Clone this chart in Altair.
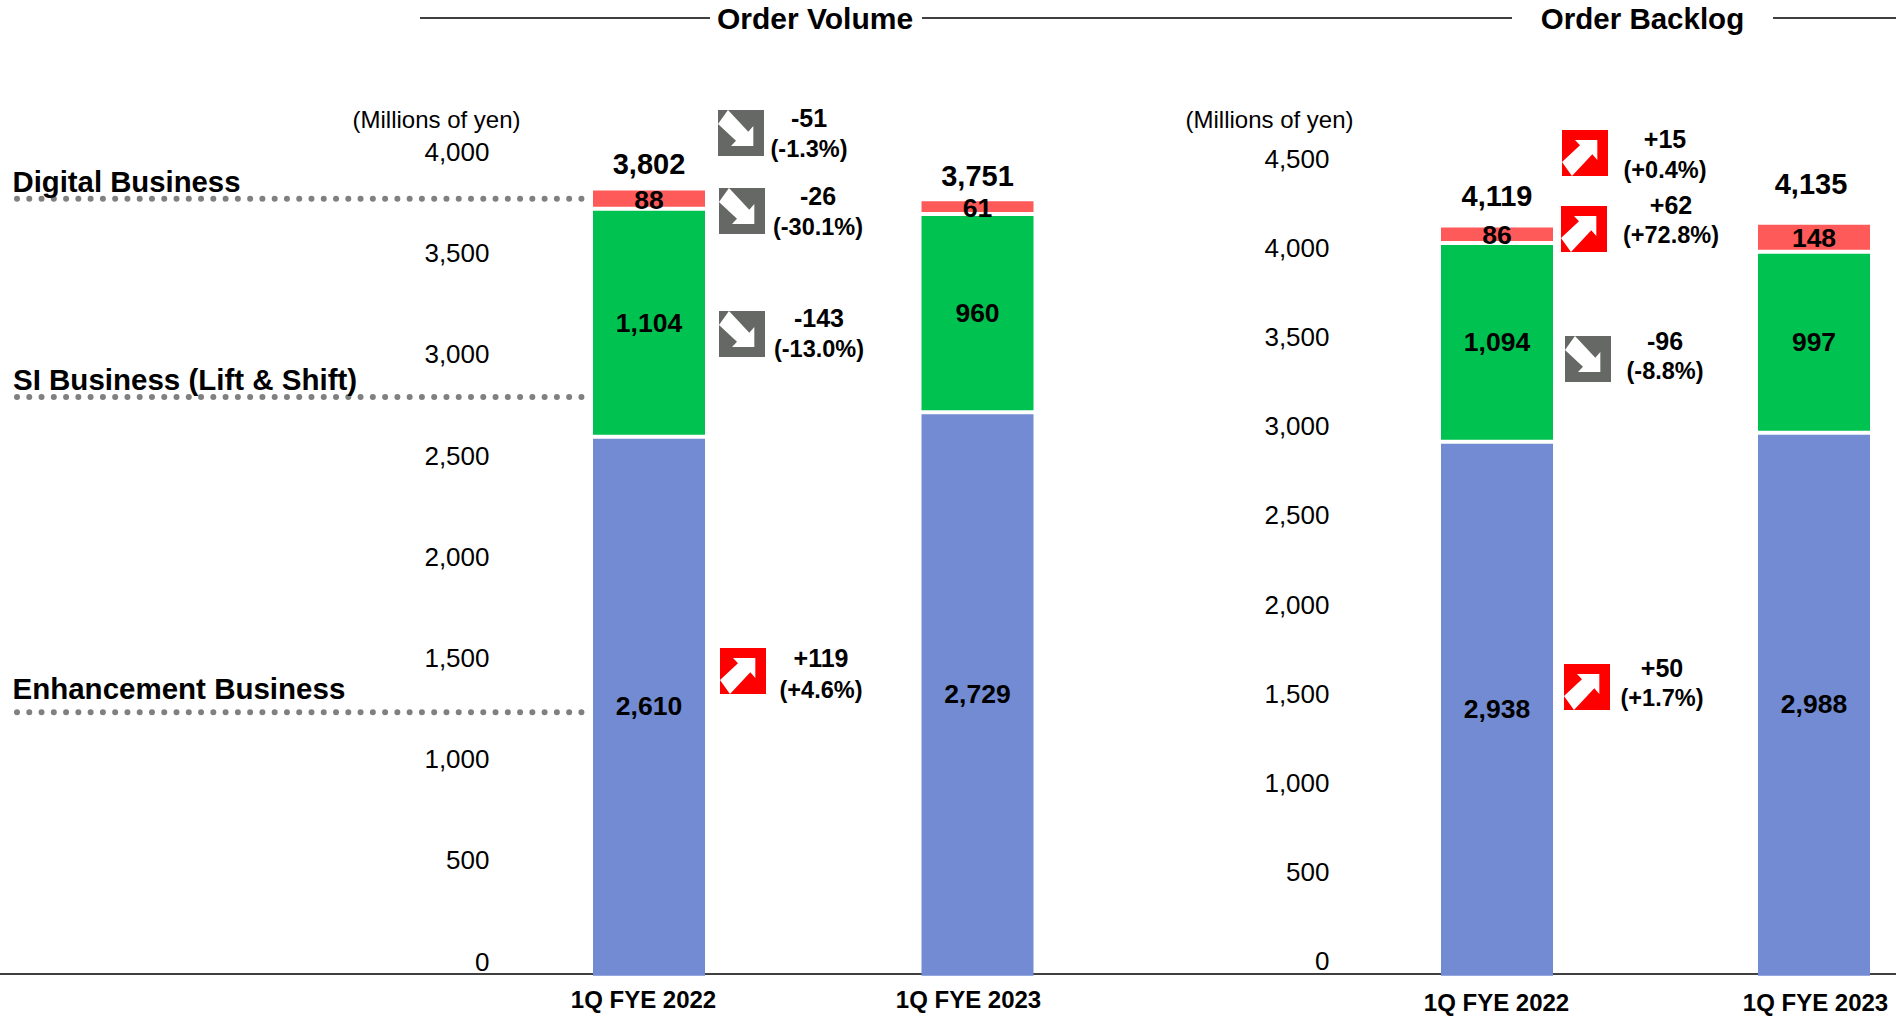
import altair as alt
import pandas as pd

periods = ["1Q FYE 2022", "1Q FYE 2023"]
segments = ["Enhancement Business", "SI Business (Lift & Shift)", "Digital Business"]
segment_colors = ["#728BD2", "#00C250", "#FF5A5A"]

volume_enhancement = [2610, 2729]
volume_si = [1104, 960]
volume_digital = [88, 61]
volume_totals = [3802, 3751]

backlog_enhancement = [2938, 2988]
backlog_si = [1094, 997]
backlog_digital = [86, 148]
backlog_totals = [4119, 4135]

volume_ticks = [0, 500, 1000, 1500, 2000, 2500, 3000, 3500, 4000]
backlog_ticks = [0, 500, 1000, 1500, 2000, 2500, 3000, 3500, 4000, 4500]

FONT = "Liberation Sans"
BASE = 975.7
GRAY = "#666865"
RED = "#FF0000"

# White arrow glyphs, in the -1..1 square that custom point shapes are drawn in.
ARROW_DOWN = "M-.566,-1L.318,-.058L.536,-.304L.536,.566L-.434,.566L-.218,.334L-1,-.392Z"
ARROW_UP = "M-.566,1L.318,.058L.536,.304L.536,-.566L-.434,-.566L-.218,-.334L-1,.392Z"


def segment_table(enhancement, si, digital):
    rows = []
    for i, period in enumerate(periods):
        low = 0
        for name, value in zip(segments, (enhancement[i], si[i], digital[i])):
            rows.append({"period": period, "segment": name, "value": value,
                         "low": low, "high": low + value, "mid": low + value / 2})
            low += value
    return pd.DataFrame(rows)


def panel(table, totals, total_shifts, ticks, bar_x, bar_scale, axis_y, axis_x, label_x, x_axis_y):
    x_scale = alt.Scale(type="point", domain=periods, range=bar_x, padding=0)
    y_scale = alt.Scale(domain=[0, 4000], range=[BASE, BASE - 4000 * bar_scale])
    x = alt.X("period:N", scale=x_scale, axis=None)

    bars = alt.Chart(table).mark_bar(size=112).encode(
        x=x,
        y=alt.Y("low:Q", scale=y_scale, axis=None),
        y2="high:Q",
        color=alt.Color("segment:N", scale=alt.Scale(domain=segments, range=segment_colors), legend=None),
    )
    # White gaps between the stacked segments.
    gaps = alt.Chart(table[table["segment"] != segments[-1]]).mark_tick(
        color="white", thickness=4, size=113, opacity=1, orient="horizontal"
    ).encode(x=x, y=alt.Y("high:Q", scale=y_scale, axis=None))
    labels = alt.Chart(table).mark_text(
        font=FONT, fontSize=26.5, fontWeight="bold", color="black", baseline="middle", dy=1
    ).encode(
        x=x,
        y=alt.Y("mid:Q", scale=y_scale, axis=None),
        text=alt.Text("value:Q", format=",d"),
    )

    layers = [bars, gaps, labels]
    for period, total, (shift_x, shift_y) in zip(periods, totals, total_shifts):
        layers.append(
            alt.Chart(pd.DataFrame({"period": [period], "total": [total]})).mark_text(
                font=FONT, fontSize=29, fontWeight="bold", color="black", baseline="middle",
                dx=shift_x, dy=shift_y,
            ).encode(
                x=x,
                y=alt.Y("total:Q", scale=y_scale, axis=None),
                text=alt.Text("total:Q", format=",d"),
            )
        )

    # Value axis and period axis, each on a scale of its own.
    layers.append(
        alt.Chart(pd.DataFrame({"tick": ticks})).mark_point(opacity=0).encode(
            x=alt.value(label_x),
            y=alt.Y(
                "tick:Q",
                scale=alt.Scale(domain=[0, ticks[-1]], range=axis_y),
                axis=alt.Axis(
                    orient="left", values=ticks, format=",d", title=None, grid=False, domain=False,
                    ticks=False, labelPadding=0, offset=-label_x, labelFont=FONT, labelFontSize=26,
                    labelColor="black", labelBaseline="middle", labelOverlap=False,
                ),
            ),
        )
    )
    layers.append(
        alt.Chart(pd.DataFrame({"period": periods})).mark_point(opacity=0).encode(
            y=alt.value(x_axis_y),
            x=alt.X(
                "period:N",
                scale=alt.Scale(type="point", domain=periods, range=axis_x, padding=0),
                axis=alt.Axis(
                    orient="bottom", title=None, grid=False, domain=False, ticks=False, labelAngle=0,
                    labelPadding=0, offset=x_axis_y - 1016, labelFont=FONT, labelFontSize=24,
                    labelFontWeight="bold", labelColor="black", labelBaseline="middle", labelOverlap=False,
                ),
            ),
        )
    )
    return layers


def text_at(text, x, y, size, bold=True, align="center"):
    return alt.Chart(pd.DataFrame({"t": [text]})).mark_text(
        font=FONT, fontSize=size, fontWeight="bold" if bold else "normal",
        color="black", align=align, baseline="middle",
    ).encode(x=alt.value(x), y=alt.value(y + 1), text="t:N")


def line_at(x1, x2, y):
    return alt.Chart(pd.DataFrame({"a": [0]})).mark_rule(color="black", strokeWidth=1.5).encode(
        x=alt.value(x1), x2=alt.value(x2), y=alt.value(y)
    )


def dotted_at(y):
    return alt.Chart(pd.DataFrame({"a": [0]})).mark_rule(
        color="#808080", strokeWidth=6, strokeCap="round", strokeDash=[0.01, 12.26]
    ).encode(x=alt.value(17), x2=alt.value(584), y=alt.value(y))


def change_badge(cx, cy, rising):
    fill = RED if rising else GRAY
    point = pd.DataFrame({"a": [0]})
    box = alt.Chart(point).mark_square(size=2116, color=fill, opacity=1).encode(
        x=alt.value(cx), y=alt.value(cy)
    )
    arrow = alt.Chart(point).mark_point(
        shape=ARROW_UP if rising else ARROW_DOWN, size=2116, filled=True,
        color="white", opacity=1, strokeWidth=0,
    ).encode(x=alt.value(cx), y=alt.value(cy))
    return [box, arrow]


layers = [line_at(0, 1896, 974)]

layers += panel(
    segment_table(volume_enhancement, volume_si, volume_digital), volume_totals, [(0, -26), (0, -24)],
    volume_ticks, [649, 977.5], 0.2065, [962, 152.5], [643, 968], 489, 1000,
)
layers += panel(
    segment_table(backlog_enhancement, backlog_si, backlog_digital), backlog_totals, [(0, -30), (-3, -39)],
    backlog_ticks, [1497, 1814], 0.1817, [961.5, 159.5], [1496, 1815], 1329, 1003,
)

# Section headers with their flanking lines.
layers += [
    line_at(420, 710, 18),
    line_at(922, 1512, 18),
    line_at(1773, 1896, 18),
    text_at("Order Volume", 815, 19, 30),
    text_at("Order Backlog", 1642.5, 19, 29.5),
    text_at("(Millions of yen)", 436.5, 120, 24, bold=False),
    text_at("(Millions of yen)", 1269.5, 120, 24, bold=False),
]

# Segment captions with leader dots running up to the first column.
layers += [
    dotted_at(198.7),
    dotted_at(397),
    dotted_at(712.3),
    text_at("Digital Business", 12.5, 181.7, 29.3, align="left"),
    text_at("SI Business (Lift & Shift)", 13, 380, 29.5, align="left"),
    text_at("Enhancement Business", 12.5, 689.3, 29.5, align="left"),
]

# Year-on-year change badges: badge centre, rising flag, text centre, two text rows.
changes = [
    (741, 133, False, 809, 118, 149, "-51", "(-1.3%)"),
    (742, 211, False, 818, 196, 227, "-26", "(-30.1%)"),
    (742, 334, False, 819, 318, 349, "-143", "(-13.0%)"),
    (743, 671, True, 821, 658, 690, "+119", "(+4.6%)"),
    (1585, 153, True, 1665, 139, 170, "+15", "(+0.4%)"),
    (1584, 229, True, 1671, 205, 235, "+62", "(+72.8%)"),
    (1588, 359, False, 1665, 341, 371, "-96", "(-8.8%)"),
    (1587, 687, True, 1662, 668, 698, "+50", "(+1.7%)"),
]
for cx, cy, rising, tx, y1, y2, amount, percent in changes:
    layers += change_badge(cx, cy, rising)
    layers += [text_at(amount, tx, y1, 25), text_at(percent, tx, y2, 23.5)]

chart = (
    alt.layer(*layers)
    .resolve_scale(x="independent", y="independent", color="independent")
    .properties(width=1896, height=1016, padding=0, autosize=alt.AutoSizeParams(type="none"), background="white")
    .configure_view(stroke=None)
)

chart.save("out.html", embed_options={"renderer": "svg", "actions": False})
